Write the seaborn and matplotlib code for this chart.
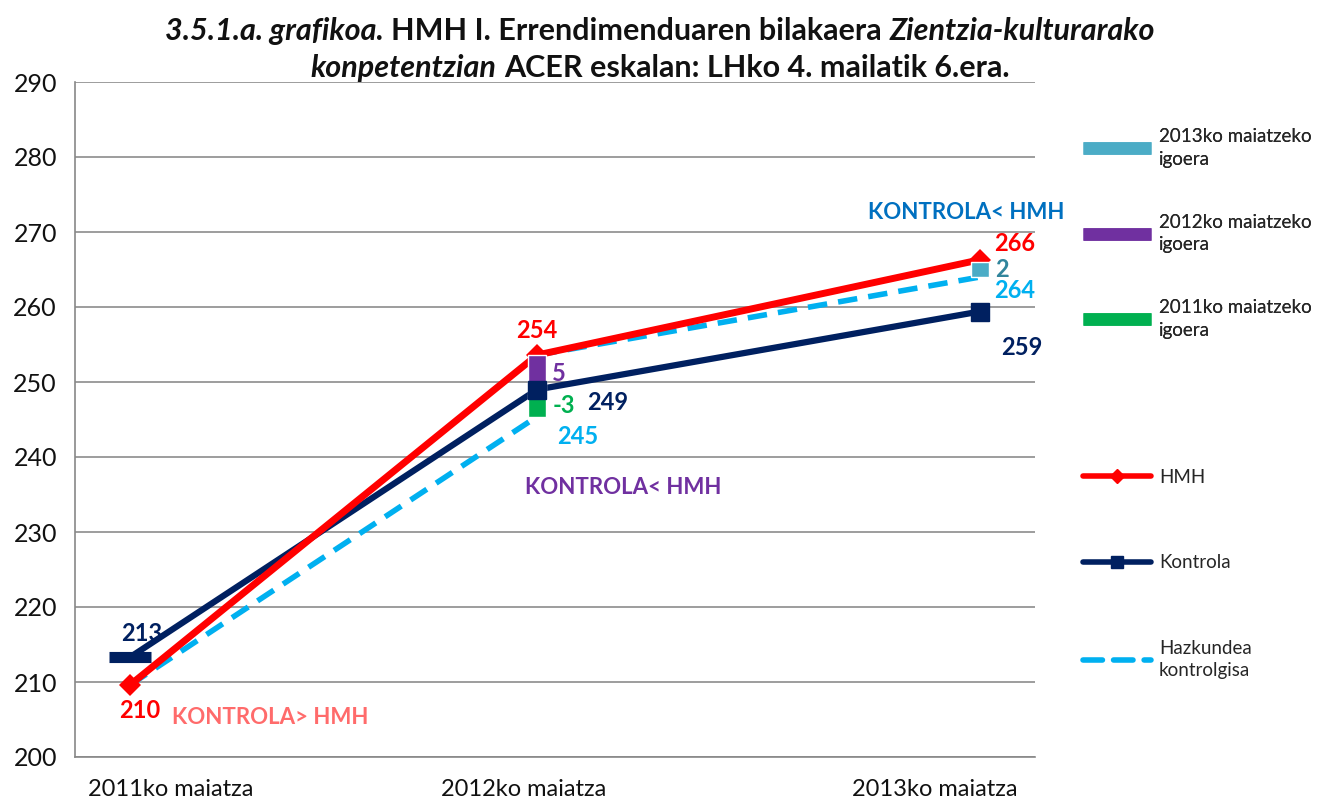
import matplotlib
matplotlib.use("Agg")
import matplotlib.pyplot as plt
from matplotlib.lines import Line2D
import seaborn as sns

# data
categories = ["2011ko maiatza", "2012ko maiatza", "2013ko maiatza"]
hmh = [209.6, 253.6, 266.3]
kontrola = [213.3, 249.0, 259.4]
hazkundea_a = [209.6, 245.4]      # 2011 -> 2012
hazkundea_b = [253.6, 264.0]      # 2012 -> 2013
igoera_names = ["2011ko maiatzeko\nigoera", "2012ko maiatzeko\nigoera", "2013ko maiatzeko\nigoera"]
igoera_values = [-3, 5, 2]
igoera_bottom = [245.4, 248.6, 264.0]
igoera_cat = [1, 1, 2]

# layout (the original category axis is unevenly spaced)
xpos = [0.0, 0.958, 2.0]

RED = "#FF0000"
NAVY = "#002060"
LBLUE = "#00B0F0"
bar_colors = ["#00B050", "#7030A0", "#4BACC6"]
bar_text_colors = ["#00B050", "#7030A0", "#31859C"]

sns.set_theme(style="white")
plt.rcParams["font.family"] = ["Lato", "DejaVu Sans"]

fig = plt.figure(figsize=(13.21, 8), dpi=100)
ax = fig.add_axes([75 / 1321, 43 / 800, 960 / 1321, 675 / 800])

# lines
sns.lineplot(x=xpos[:2], y=hazkundea_a, ax=ax, color=LBLUE, lw=4, zorder=2)
ax.lines[-1].set_dashes((3.5, 2))
sns.lineplot(x=xpos[1:], y=hazkundea_b, ax=ax, color=LBLUE, lw=4, zorder=2)
ax.lines[-1].set_dashes((3.5, 2))
sns.lineplot(x=xpos, y=kontrola, ax=ax, color=NAVY, lw=4.5, zorder=3)
sns.lineplot(x=xpos, y=hmh, ax=ax, color=RED, lw=5, zorder=4,
             marker="D", markersize=11, markeredgewidth=0)

# increase bars
for cat, b, v, c in zip(igoera_cat, igoera_bottom, igoera_values, bar_colors):
    ax.bar(xpos[cat], abs(v), bottom=b, width=0.042, color=c, zorder=5)

# kontrola markers
ax.plot(xpos[1:], kontrola[1:], "s", color=NAVY, ms=13, zorder=6)
ax.plot(xpos[0], kontrola[0], marker="_", color=NAVY, ms=30, mew=8, zorder=6)

# value labels
def lab(text, x, y, dx, dy, color, size=17, ha="center"):
    ax.annotate(text, (x, y), xytext=(dx, dy), textcoords="offset pixels",
                ha=ha, va="center", color=color, fontsize=size, fontweight="bold", zorder=7)

lab(f"{kontrola[0]:.0f}", xpos[0], kontrola[0], 12, 24, NAVY)
lab(f"{hmh[0]:.0f}", xpos[0], hmh[0], 10, -25, RED)
lab(f"{hmh[1]:.0f}", xpos[1], hmh[1], 0, 25, RED)
lab(f"{kontrola[1]:.0f}", xpos[1], kontrola[1], 71, -13, NAVY)
lab(f"{hazkundea_a[1]:.0f}", xpos[1], hazkundea_a[1], 41, -20, LBLUE)
lab(f"{hmh[2]:.0f}", xpos[2], hmh[2], 35, 16, RED)
lab(f"{hazkundea_b[1]:.0f}", xpos[2], hazkundea_b[1], 35, -14, LBLUE)
lab(f"{kontrola[2]:.0f}", xpos[2], kontrola[2], 42, -36, NAVY)
for cat, b, v, c in zip(igoera_cat, igoera_bottom, igoera_values, bar_text_colors):
    lab(f"{v}", xpos[cat], b + abs(v) / 2, 15, 0, c, ha="left")

lab("KONTROLA> HMH", xpos[0], hmh[0], 42, -32, "#FF6B6B", size=16, ha="left")
lab("KONTROLA< HMH", xpos[1], hmh[1], -12, -132, "#7030A0", size=16, ha="left")
lab("KONTROLA< HMH", xpos[2], hmh[2], -112, 47, "#0070C0", size=16, ha="left")

# axes styling
ax.set_ylim(200, 290)
ax.set_yticks(range(200, 291, 10))
ax.set_xlim(-55 / 425, 905 / 425)
ax.set_xticks([0.096, 0.927, 1.894])
ax.set_xticklabels(categories)
ax.set_xticks([-0.129, 0.908, 1.946], minor=True)
ax.tick_params(axis="x", which="major", length=0, pad=16, labelsize=17, labelcolor="#111111")
ax.tick_params(axis="x", which="minor", length=6, width=1, color="#888888", direction="out")
ax.tick_params(axis="y", length=5, width=1, color="#888888", direction="out",
               labelsize=18, labelcolor="#111111", pad=8)
ax.yaxis.grid(True, color="#8C8C8C", lw=1.2)
ax.set_axisbelow(True)
for s in ["top", "right"]:
    ax.spines[s].set_visible(False)
for s in ["left", "bottom"]:
    ax.spines[s].set_color("#888888")
    ax.spines[s].set_linewidth(1.2)
ax.set_xlabel("")
ax.set_ylabel("")

# legends
bar_handles = [Line2D([], [], color=c, lw=9, solid_capstyle="butt") for c in bar_colors[::-1]]
leg1 = fig.legend(bar_handles, igoera_names[::-1], loc="upper left",
                  bbox_to_anchor=(1083 / 1321, 1 - 128 / 800), frameon=False,
                  fontsize=13.5, handlelength=3.6, handletextpad=0.45,
                  labelspacing=2.45, borderaxespad=0, borderpad=0)
line_handles = [
    Line2D([], [], color=RED, lw=4, marker="D", ms=7, solid_capstyle="round"),
    Line2D([], [], color=NAVY, lw=4, marker="s", ms=8, solid_capstyle="round"),
    Line2D([], [], color=LBLUE, lw=4, ls=(0, (3.5, 2)), dash_capstyle="round"),
]
leg2 = fig.legend(line_handles, ["HMH", "Kontrola", "Hazkundea\nkontrolgisa"], loc="upper left",
                  bbox_to_anchor=(1083 / 1321, 1 - 469 / 800), frameon=False,
                  fontsize=13.5, handlelength=3.6, handletextpad=0.45,
                  labelspacing=3.65, borderaxespad=0, borderpad=0)
for lg in (leg1, leg2):
    for t in lg.get_texts():
        t.set_linespacing(1.4)
fig.add_artist(leg1)

# title with mixed styles
def rich_line(parts, y_px, size=22):
    texts = [fig.text(0, 1 - y_px / 800, s, fontsize=size, fontweight="bold",
                      fontstyle=st, va="baseline", color="#111111") for s, st in parts]
    fig.canvas.draw()
    r = fig.canvas.get_renderer()
    sp = fig.text(0, 0, "x x", fontsize=size, fontweight="bold")
    sp2 = fig.text(0, 0, "xx", fontsize=size, fontweight="bold")
    space = sp.get_window_extent(r).width - sp2.get_window_extent(r).width
    sp.remove()
    sp2.remove()
    widths = [t.get_window_extent(r).width for t in texts]
    total = sum(widths) + space * (len(texts) - 1)
    x = 660 - total / 2
    for t, w in zip(texts, widths):
        t.set_x(x / 1321)
        x += w + space

rich_line([("3.5.1.a. grafikoa.", "italic"), ("HMH I. Errendimenduaren bilakaera", "normal"),
           ("Zientzia-kulturarako", "italic")], 40)
rich_line([("konpetentzian", "italic"), ("ACER eskalan: LHko 4. mailatik 6.era.", "normal")], 77)

fig.savefig("out.png", dpi=100)
